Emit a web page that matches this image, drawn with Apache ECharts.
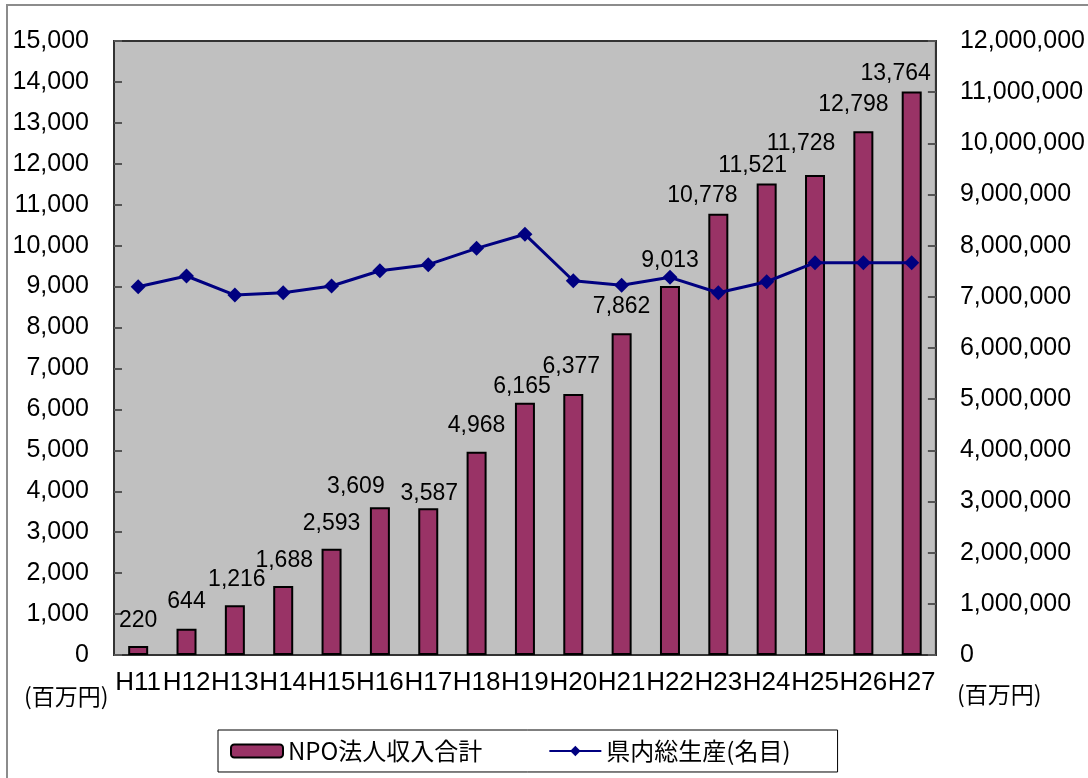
<!DOCTYPE html>
<html>
<head>
<meta charset="utf-8">
<script src="https://cdn.jsdelivr.net/npm/echarts@6/dist/echarts.min.js"></script>
<style>
  html, body { margin: 0; padding: 0; background: #fff; }
  #main { width: 1088px; height: 778px; }
</style>
</head>
<body>
<div id="main"></div>
<script>
var years = ['H11', 'H12', 'H13', 'H14', 'H15', 'H16', 'H17', 'H18', 'H19',
             'H20', 'H21', 'H22', 'H23', 'H24', 'H25', 'H26', 'H27'];
// NPO法人収入合計（百万円）
var npoIncome = [220, 644, 1216, 1688, 2593, 3609, 3587, 4968, 6165,
                 6377, 7862, 9013, 10778, 11521, 11728, 12798, 13764];
// 県内総生産（名目）（百万円）
var gdp = [7198000, 7407000, 7035000, 7080000, 7211000, 7510000, 7628000, 7948000, 8222000,
           7315000, 7225000, 7381000, 7080000, 7295000, 7667000, 7667000, 7667000];

// label nudges, like Excel placed them (px)
var labelShift = [[0, 0], [0, -1], [2, 0], [1, 0], [0, 0], [-24, 5], [1, 11], [0, 0], [-3, 10],
                  [-2, -2], [0, -1], [0, 0], [-16, 7], [-14, 8], [-14, -6], [-10, -1], [-16, 8]];

var myChart = echarts.init(document.getElementById('main'));
var latin = '"Liberation Sans", Arial, sans-serif';
var cjk = '"Noto Sans CJK JP", sans-serif';

var option = {
    animation: false,
    backgroundColor: '#fff',
    textStyle: { fontFamily: latin },
    graphic: [
        {
            type: 'rect',
            shape: { x: 7, y: 5, width: 1100, height: 800 },
            style: { fill: 'none', stroke: '#8c8c8c', lineWidth: 2 },
            silent: true
        },
        {
            type: 'text', left: 24, top: 685,
            style: { text: '(百万円)', font: '23px ' + cjk, fill: '#000' }
        },
        {
            type: 'text', left: 957, top: 683,
            style: { text: '(百万円)', font: '23px ' + cjk, fill: '#000' }
        }
    ],
    legend: {
        left: 218,
        top: 730,
        padding: [9, 47, 9, 12],
        itemWidth: 52,
        itemHeight: 13,
        itemGap: 66,
        borderColor: '#000',
        borderWidth: 1,
        textStyle: { fontFamily: cjk, fontSize: 24, color: '#000' },
        data: ['NPO法人収入合計', '県内総生産(名目)']
    },
    grid: {
        left: 114,
        right: 146,
        top: 41,
        bottom: 123,
        show: true,
        backgroundColor: '#c0c0c0',
        borderColor: '#333',
        borderWidth: 2
    },
    xAxis: {
        type: 'category',
        data: years,
        axisLine: { lineStyle: { color: '#333', width: 2 } },
        axisTick: { inside: true, length: 8, lineStyle: { color: '#555', width: 2 } },
        axisLabel: { color: '#000', fontSize: 26, margin: 15, interval: 0 }
    },
    yAxis: [
        {
            type: 'value',
            min: 0,
            max: 15000,
            interval: 1000,
            splitLine: { show: false },
            axisLine: { show: true, lineStyle: { color: '#333', width: 2 } },
            axisTick: { show: true, inside: true, length: 8, lineStyle: { color: '#555', width: 2 } },
            axisLabel: {
                color: '#000', fontSize: 25, margin: 25,
                formatter: function (v) { return v.toLocaleString('en-US'); }
            }
        },
        {
            type: 'value',
            min: 0,
            max: 12000000,
            interval: 1000000,
            splitLine: { show: false },
            axisLine: { show: true, lineStyle: { color: '#333', width: 2 } },
            axisTick: { show: true, inside: true, length: 8, lineStyle: { color: '#555', width: 2 } },
            axisLabel: {
                color: '#000', fontSize: 25, margin: 24, align: 'left',
                formatter: function (v) { return v.toLocaleString('en-US'); }
            }
        }
    ],
    series: [
        {
            name: 'NPO法人収入合計',
            type: 'bar',
            barWidth: 20,
            itemStyle: { color: '#993366', borderColor: '#000', borderWidth: 2 },
            data: npoIncome.map(function (v, i) {
                return { value: v, label: { offset: labelShift[i] } };
            }),
            label: {
                show: true,
                position: 'top',
                distance: 14,
                color: '#000',
                fontSize: 23,
                formatter: function (p) { return p.value.toLocaleString('en-US'); }
            },
            z: 2
        },
        {
            name: '県内総生産(名目)',
            type: 'line',
            yAxisIndex: 1,
            data: gdp,
            symbol: 'diamond',
            symbolSize: 15,
            lineStyle: { color: '#000080', width: 3 },
            itemStyle: { color: '#000080' },
            z: 3
        }
    ]
};
myChart.setOption(option);
window.addEventListener('resize', function () {
    myChart.resize();
});
</script>
</body>
</html>
